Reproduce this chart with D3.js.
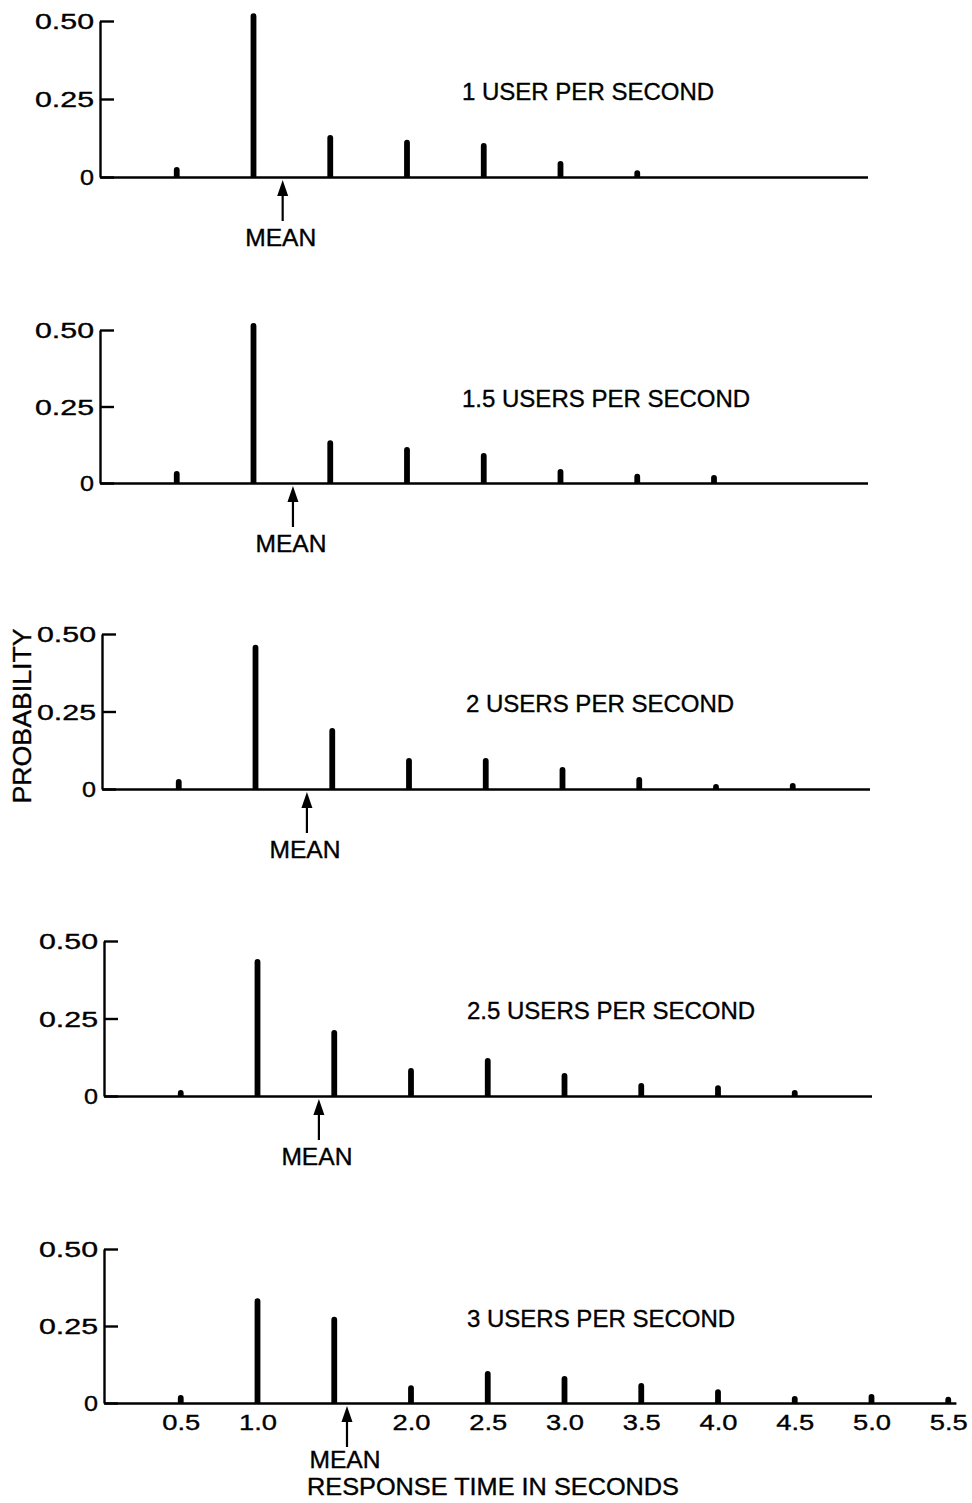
<!DOCTYPE html>
<html>
<head>
<meta charset="utf-8">
<script src="https://cdn.jsdelivr.net/npm/d3@7"></script>
<style>
  html, body { margin: 0; background: #fff; }
  svg { display: block; }
  text { font-family: "Liberation Sans", Arial, Helvetica, sans-serif; fill: #000; stroke: #000; stroke-width: 0.35px; }
</style>
</head>
<body>
<svg id="chart" width="972" height="1503"></svg>
<script>
// Response-time distributions for five arrival rates
const rateLabels = [
  "1 USER PER SECOND",
  "1.5 USERS PER SECOND",
  "2 USERS PER SECOND",
  "2.5 USERS PER SECOND",
  "3 USERS PER SECOND"
];
const responseTimes = [0.5, 1.0, 1.5, 2.0, 2.5, 3.0, 3.5, 4.0, 4.5, 5.0, 5.5];

const probRate1   = [0.032, 0.525, 0.135, 0.119, 0.109, 0.051, 0.022];
const probRate1_5 = [0.039, 0.523, 0.140, 0.118, 0.098, 0.046, 0.030, 0.026];
const probRate2   = [0.032, 0.465, 0.197, 0.100, 0.100, 0.071, 0.039, 0.016, 0.019];
const probRate2_5 = [0.019, 0.442, 0.213, 0.090, 0.123, 0.074, 0.042, 0.035, 0.019];
const probRate3   = [0.026, 0.340, 0.280, 0.058, 0.104, 0.088, 0.065, 0.045, 0.023, 0.029, 0.020];

const meanTimes = [1.19, 1.257, 1.335, 1.40, 1.583];
const axisEnds  = [5.0, 5.0, 5.0, 5.0, 5.55];

const yTickValues = [0, 0.25, 0.5];
const yTickLabels = ["0", "0.25", "0.50"];
const xTickValues = [0.5, 1.0, 1.5, 2.0, 2.5, 3.0, 3.5, 4.0, 4.5, 5.0, 5.5];
const xTickLabels = ["0.5", "1.0", "", "2.0", "2.5", "3.0", "3.5", "4.0", "4.5", "5.0", "5.5"];

const series = [probRate1, probRate1_5, probRate2, probRate2_5, probRate3];

// Panel layout
const pxPerSecond = 153.5;
const panelZero = [177, 483, 789, 1096, 1403];
const panelTop  = [21, 330, 634, 941, 1249];
const panelLeft = [100, 100, 102, 104, 104];
const titleX    = [462, 462, 466, 467, 467];
const barWidth  = 5.8;

const svg = d3.select("#chart");
svg.append("rect").attr("width", 972).attr("height", 1503).attr("fill", "#fff");

// bar with a rounded top, drawn from the baseline up
function barPath(cx, y0, yt, w) {
  const r = w / 2;
  const h = y0 - yt;
  const capY = h > r ? yt + r : y0 - 0.01;
  return `M${cx - r},${y0} V${capY} A${r},${r} 0 0 1 ${cx + r},${capY} V${y0} Z`;
}

series.forEach((values, i) => {
  const left = panelLeft[i];
  const x = d3.scaleLinear()
    .domain([0, axisEnds[i]])
    .range([left, left + axisEnds[i] * pxPerSecond]);
  const y = d3.scaleLinear()
    .domain([0, 0.5])
    .range([panelZero[i], panelTop[i]]);

  const g = svg.append("g");
  const isLast = i === series.length - 1;

  // y axis: ticks point inward, labels on the left
  const yAxis = g.append("g")
    .attr("transform", `translate(${left},0)`)
    .call(d3.axisLeft(y)
      .tickValues(yTickValues)
      .tickFormat((d, k) => yTickLabels[k])
      .tickSizeInner(-14)
      .tickSizeOuter(0)
      .tickPadding(6));
  yAxis.select(".domain").attr("stroke", "#000").attr("stroke-width", 2.4);
  yAxis.selectAll(".tick line").attr("stroke", "#000").attr("stroke-width", 2.4);
  yAxis.selectAll(".tick text")
    .attr("font-size", 22)
    .attr("font-family", "Liberation Sans, Arial, sans-serif")
    .attr("dy", "0.36em")
    .attr("lengthAdjust", "spacingAndGlyphs")
    .attr("textLength", d => (d === 0 ? 14 : 59));

  // x axis baseline (tick labels only on the lowest panel)
  const xAxis = g.append("g")
    .attr("transform", `translate(0,${panelZero[i]})`)
    .call(d3.axisBottom(x)
      .tickValues(isLast ? xTickValues : [])
      .tickFormat((d, k) => xTickLabels[k])
      .tickSize(0)
      .tickPadding(11));
  xAxis.select(".domain").attr("stroke", "#000").attr("stroke-width", 2.4);
  xAxis.selectAll(".tick text")
    .attr("font-size", 22)
    .attr("font-family", "Liberation Sans, Arial, sans-serif")
    .attr("dy", "0.71em")
    .attr("lengthAdjust", "spacingAndGlyphs")
    .each(function () {
      const t = d3.select(this);
      if (t.text() !== "") t.attr("textLength", 38);
    });

  // probability spikes
  g.append("g").selectAll("path")
    .data(values)
    .join("path")
    .attr("d", (v, k) => barPath(x(responseTimes[k]), y(0), y(v), barWidth))
    .attr("fill", "#000");

  // panel title
  g.append("text")
    .attr("x", titleX[i])
    .attr("y", (y(0.5) + y(0)) / 2 + 8.5 - 8)
    .attr("font-size", 24)
    .text(rateLabels[i]);

  // mean arrow and label
  const mx = x(meanTimes[i]);
  const z = y(0);
  const arrow = g.append("g");
  arrow.append("line")
    .attr("x1", mx).attr("x2", mx)
    .attr("y1", z + 14).attr("y2", z + 44)
    .attr("stroke", "#000").attr("stroke-width", 2.2);
  arrow.append("path")
    .attr("d", `M${mx},${z + 3} L${mx - 5.5},${z + 19} L${mx + 5.5},${z + 19} Z`)
    .attr("fill", "#000");
  g.append("text")
    .attr("x", mx - 2)
    .attr("y", isLast ? z + 65 : z + 69)
    .attr("text-anchor", "middle")
    .attr("font-size", 23)
    .attr("lengthAdjust", "spacingAndGlyphs")
    .attr("textLength", 71)
    .text("MEAN");
});

// shared axis titles
svg.append("text")
  .attr("transform", "translate(31,716) rotate(-90)")
  .attr("text-anchor", "middle")
  .attr("font-size", 26)
  .attr("lengthAdjust", "spacingAndGlyphs")
  .attr("textLength", 175)
  .text("PROBABILITY");

svg.append("text")
  .attr("x", 307)
  .attr("y", 1495)
  .attr("font-size", 23)
  .attr("lengthAdjust", "spacingAndGlyphs")
  .attr("textLength", 372)
  .text("RESPONSE TIME IN SECONDS");
</script>
</body>
</html>
